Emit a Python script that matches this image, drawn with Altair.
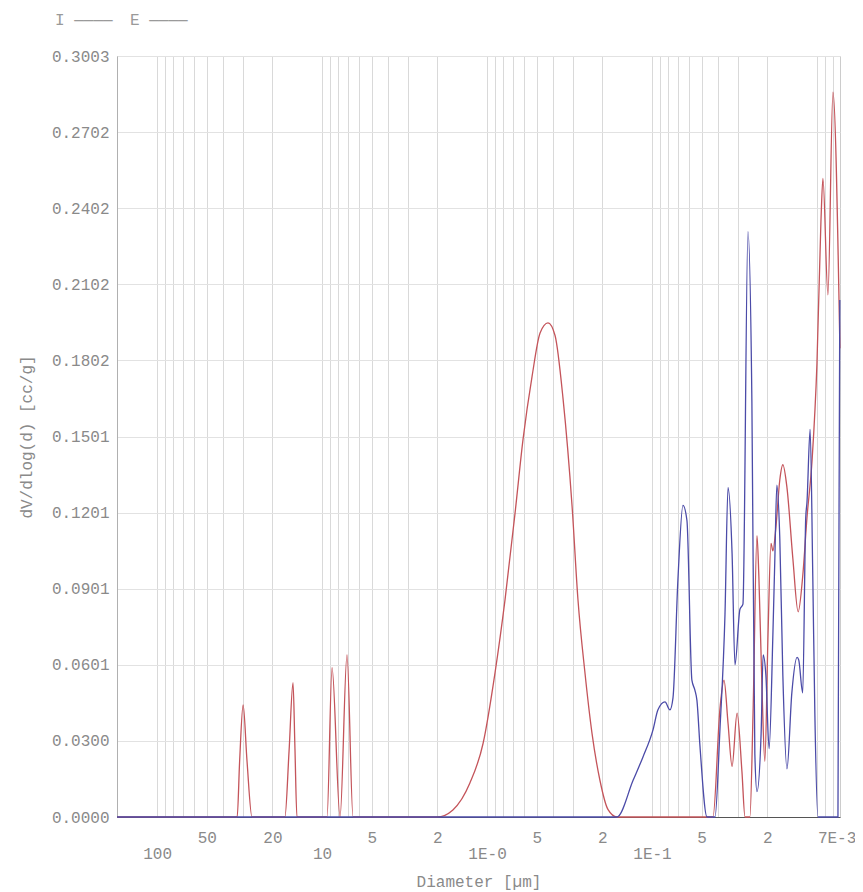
import json
import altair as alt
import pandas as pd

# ---------------- data ----------------
# Series E (red): diameter [um] and dV/dlog(d) [cc/g]
e_diam = [175, 32.7, 31.6, 30.1, 28.5, 26.6, 16.8, 15.85, 15.0, 14.6, 14.2,
          9.33, 8.70, 7.78, 7.06, 6.49, 2.01, 1.61, 1.27, 1.057, 0.894, 0.778,
          0.676, 0.605, 0.533, 0.477, 0.427, 0.387, 0.346, 0.305, 0.281, 0.255,
          0.231, 0.207, 0.185, 0.163, 0.0427, 0.0387, 0.0366, 0.0346, 0.0327,
          0.0305, 0.0285, 0.0273, 0.0255, 0.0244, 0.0231, 0.0225, 0.0215, 0.0207,
          0.0198, 0.0190, 0.0185, 0.0177, 0.0168, 0.0161, 0.0152, 0.0140, 0.0130,
          0.0122, 0.0115, 0.0107, 0.0100, 0.00946, 0.00920, 0.00858, 0.00800, 0.00726]
e_dv = [0, 0, 0.022, 0.0442, 0.022, 0, 0, 0.026, 0.053, 0.027, 0,
        0, 0.0589, 0, 0.064, 0, 0, 0.0028, 0.0134, 0.029, 0.057, 0.0857,
        0.120, 0.149, 0.174, 0.191, 0.195, 0.190, 0.165, 0.1225, 0.0857, 0.057,
        0.033, 0.0146, 0.003, 0, 0, 0.043, 0.054, 0.037, 0.020,
        0.041, 0.018, 0, 0, 0.041, 0.111, 0.095, 0.049, 0.022,
        0.072, 0.108, 0.105, 0.115, 0.133, 0.139, 0.130, 0.102, 0.081,
        0.095, 0.118, 0.141, 0.179, 0.235, 0.252, 0.206, 0.286, 0.185]

# Series I (blue)
i_diam = [175, 0.163, 0.130, 0.1134, 0.0986, 0.0920, 0.0834, 0.0778, 0.0746,
          0.0696, 0.0649, 0.0614, 0.0573, 0.0549, 0.0534, 0.0512, 0.0464, 0.0415,
          0.0387, 0.0361, 0.0346, 0.0327, 0.0314, 0.0293, 0.0281, 0.0262, 0.0248,
          0.0238, 0.0231, 0.0218, 0.0212, 0.0204, 0.0195, 0.0185, 0.0180, 0.0175,
          0.0168, 0.0161, 0.0152, 0.0142, 0.0132, 0.0129, 0.0122, 0.0117, 0.0115,
          0.0110, 0.0106, 0.0103, 0.00986, 0.00746, 0.00727]
i_dv = [0, 0, 0.0146, 0.0237, 0.0344, 0.0423, 0.0454, 0.0423, 0.047,
        0.094, 0.123, 0.117, 0.054, 0.050, 0.046, 0.028, 0, 0,
        0.035, 0.080, 0.130, 0.104, 0.060, 0.082, 0.084, 0.231, 0.164,
        0.025, 0.010, 0.033, 0.064, 0.056, 0.027, 0.072, 0.102, 0.131,
        0.110, 0.056, 0.019, 0.049, 0.063, 0.062, 0.049, 0.118, 0.124,
        0.153, 0.095, 0.041, 0, 0, 0.204]

series_names = ["I", "E"]
series_colors = ["#4b4ba8", "#c4545a"]

x_upper_ticks = [50, 20, 5, 2, 0.5, 0.2, 0.05, 0.02, 0.0076]
x_upper_labels = ["50", "20", "5", "2", "5", "2", "5", "2", "7E-3"]
x_lower_ticks = [100, 10, 1, 0.1]
x_lower_labels = ["100", "10", "1E-0", "1E-1"]
x_grid = [0.008, 0.009,
          0.01, 0.02, 0.03, 0.04, 0.05, 0.06, 0.07, 0.08, 0.09,
          0.1, 0.2, 0.3, 0.4, 0.5, 0.6, 0.7, 0.8, 0.9,
          1, 2, 3, 4, 5, 6, 7, 8, 9,
          10, 20, 30, 40, 50, 60, 70, 80, 90,
          100]
x_domain = [0.00725, 175]

y_ticks = [0, 0.03003, 0.06006, 0.09009, 0.12012, 0.15015, 0.18018,
           0.21021, 0.24024, 0.27027, 0.3003]
y_labels = ["0.0000", "0.0300", "0.0601", "0.0901", "0.1201", "0.1501",
            "0.1802", "0.2102", "0.2402", "0.2702", "0.3003"]
y_domain = [0, 0.3003]

# ---------------- build tables ----------------
df_e = pd.DataFrame({"d": e_diam, "v": e_dv, "series": "E", "k": range(len(e_diam))})
df_i = pd.DataFrame({"d": i_diam, "v": i_dv, "series": "I", "k": range(len(i_diam))})


def label_expr(ticks, labels):
    t = json.dumps(ticks)
    l = json.dumps(labels)
    return f"indexof({t}, datum.value) >= 0 ? {l}[indexof({t}, datum.value)] : ''"


FONT = "Liberation Mono"
FS = 16
TXT = "#8a8a8a"

xscale = alt.Scale(type="log", domain=x_domain, reverse=True, nice=False)
yscale = alt.Scale(domain=y_domain, nice=False, zero=True)

y_axis = alt.Axis(values=y_ticks, labelExpr=label_expr(y_ticks, y_labels),
                  grid=True, gridColor="#e2e2e2", ticks=False, domain=True,
                  domainColor="#b0b0b0", labelPadding=8,
                  title="dV/dlog(d) [cc/g]", titlePadding=17)

grid_axis = alt.Axis(values=x_grid, grid=True, gridColor="#d9d9d9", labels=False,
                     ticks=False, domain=False, title=None, orient="bottom")
upper_axis = alt.Axis(values=x_upper_ticks, labelExpr=label_expr(x_upper_ticks, x_upper_labels),
                      grid=False, ticks=False, tickSize=0, domain=True, domainColor="#555555",
                      labelPadding=12, labelFlush=False, labelOverlap=False, labelBound=False,
                      title=None, orient="bottom")
lower_axis = alt.Axis(values=x_lower_ticks, labelExpr=label_expr(x_lower_ticks, x_lower_labels),
                      grid=False, ticks=False, tickSize=0, domain=False,
                      labelPadding=28, labelFlush=False, labelOverlap=False, labelBound=False,
                      title="Diameter [µm]", titlePadding=12, orient="bottom")

# legend: label followed by a drawn line, as in the reference ("I ———  E ———")
color = alt.Color("series:N",
                  scale=alt.Scale(domain=series_names, range=series_colors),
                  legend=alt.Legend(orient="none", legendX=-78, legendY=-44,
                                    direction="horizontal", title=None,
                                    symbolType="stroke", symbolSize=1,
                                    symbolOpacity=0, labelOffset=0,
                                    labelExpr="datum.label + ' ————'",
                                    columnPadding=1,
                                    labelFont=FONT, labelFontSize=FS, labelColor="#9a9a9a"))

line_e = alt.Chart(df_e).mark_line(strokeWidth=1.3, interpolate="monotone").encode(
    x=alt.X("d:Q", scale=xscale, axis=grid_axis),
    y=alt.Y("v:Q", scale=yscale, axis=y_axis),
    color=color,
    order="k:Q",
)

line_i = alt.Chart(df_i).mark_line(strokeWidth=1.3, interpolate="monotone").encode(
    x=alt.X("d:Q", scale=xscale, axis=upper_axis),
    y=alt.Y("v:Q", scale=yscale, axis=y_axis),
    color=color,
    order="k:Q",
)

lower = alt.Chart(df_i).mark_point(opacity=0).encode(
    x=alt.X("d:Q", scale=xscale, axis=lower_axis),
    y=alt.Y("v:Q", scale=yscale, axis=y_axis),
)

chart = alt.layer(line_e, line_i, lower).resolve_axis(x="independent").properties(
    width=723, height=761,
    autosize=alt.AutoSizeParams(type="none"),
    padding={"left": 109, "top": 48, "right": 15, "bottom": 76},
).configure_axis(
    labelFont=FONT, labelFontSize=FS, labelColor=TXT,
    titleFont=FONT, titleFontSize=FS, titleColor=TXT, titleFontWeight="normal",
).configure_view(stroke="#cccccc")

chart.save("out.html", embed_options={"renderer": "svg", "actions": False})
